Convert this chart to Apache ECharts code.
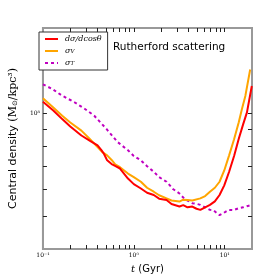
<!DOCTYPE html>
<html>
<head>
<meta charset="utf-8">
<script src="https://cdn.jsdelivr.net/npm/echarts@6/dist/echarts.min.js"></script>
<style>html,body{margin:0;padding:0;background:#fff}#c{width:280px;height:280px}</style>
</head>
<body>
<div id="c"></div>
<script>
// ---- data (t in Gyr, central density in Msun/kpc^3) ----
const tRed = [0.1, 0.13, 0.163, 0.2, 0.265, 0.33, 0.399, 0.44, 0.469, 0.509, 0.57, 0.63, 0.705, 0.863, 1.0, 1.197, 1.4, 1.658, 1.9, 2.294, 2.6, 3.18, 3.5, 3.9, 4.41, 4.9, 5.4, 6.1, 6.89, 7.8, 8.79, 9.9, 11.2, 12.7, 14.3, 16.0, 17.6, 19.9];
const rhoRed = [10.81, 10.2, 9.62, 9.15, 8.61, 8.3, 8.05, 7.8, 7.61, 7.28, 7.1, 7.0, 6.89, 6.44, 6.2, 6.02, 5.85, 5.76, 5.62, 5.57, 5.42, 5.33, 5.38, 5.3, 5.33, 5.25, 5.21, 5.3, 5.39, 5.52, 5.76, 6.15, 6.74, 7.5, 8.42, 9.3, 10.07, 12.03];
const tOrange = [0.1, 0.13, 0.163, 0.2, 0.265, 0.33, 0.399, 0.45, 0.509, 0.57, 0.624, 0.705, 0.863, 1.0, 1.197, 1.4, 1.658, 1.9, 2.294, 2.6, 3.18, 3.5, 3.9, 4.41, 5.4, 6.1, 6.89, 7.8, 8.79, 9.9, 11.2, 12.7, 14.3, 15.5, 16.9, 19.1];
const rhoOrange = [11.08, 10.4, 9.84, 9.4, 8.9, 8.4, 7.96, 7.7, 7.53, 7.3, 7.08, 6.95, 6.66, 6.5, 6.3, 6.05, 5.89, 5.75, 5.63, 5.55, 5.51, 5.58, 5.57, 5.55, 5.63, 5.72, 5.89, 6.05, 6.3, 6.8, 7.53, 8.4, 9.42, 10.3, 11.25, 13.45];
const tMag = [0.1, 0.128, 0.16, 0.225, 0.29, 0.367, 0.5, 0.66, 0.863, 1.0, 1.197, 1.4, 1.658, 1.9, 2.294, 2.7, 3.18, 3.6, 3.9, 4.4, 5.0, 5.4, 6.1, 6.89, 7.5, 8.2, 8.79, 9.5, 10.3, 11.2, 12.5, 14.3, 16, 18, 19.9];
const rhoMag = [12.17, 11.77, 11.3, 10.76, 10.3, 9.84, 9.0, 8.25, 7.79, 7.5, 7.28, 7.0, 6.74, 6.5, 6.3, 6.0, 5.82, 5.62, 5.55, 5.45, 5.42, 5.39, 5.3, 5.21, 5.2, 5.1, 5.03, 5.08, 5.15, 5.21, 5.2, 5.27, 5.3, 5.35, 5.39];
const rhoUnit = 1e7;
const seriesNames = ['dsig', 'sigV', 'sigT'];
const xLabelTicks = [0.1, 1, 10];
const xTicks = [0.2,0.3,0.4,0.5,0.6,0.7,0.8,0.9,1,2,3,4,5,6,7,8,9,10];
const yLabelTicks = [1e8];
const yTicks = [5e7,6e7,7e7,8e7,9e7,1e8];
const xTickLabels = {0.1:'10⁻¹', 1:'10⁰', 10:'10¹'};
const yTickLabels = {100000000:'10⁸'};
const xMin = 0.1, xMax = 20, yMin = 4e7, yMax = 1.78e8;

function pairs(t, r){ return t.map((v,i)=>[v, r[i]*rhoUnit]); }

const frame = '#999';
function xAx(pos, labels){
  return {type:'log', logBase:10, min:xMin, max:xMax, position:pos, gridIndex:0,
    axisLine:{show:true, onZero:false, lineStyle:{color:frame, width:2}},
    splitLine:{show:false},
    axisTick:{show:true, inside:true, length:4, customValues:xTicks, lineStyle:{color:'#222', width:1}},
    axisLabel:{show: labels, customValues:xLabelTicks, formatter:v=>xTickLabels[Math.round(v*10)/10]||'', fontFamily:'DejaVu Serif', fontSize:6, color:'#000', margin:3},
    name: labels ? '{i|t} {n|(Gyr)}' : '', nameLocation:'middle', nameGap:14,
    nameTextStyle:{rich:{i:{fontFamily:'DejaVu Serif', fontStyle:'italic', fontSize:10, color:'#000'}, n:{fontFamily:'DejaVu Sans', fontSize:10, color:'#000'}}}
  };
}
function yAx(pos, labels){
  return {type:'log', logBase:10, min:yMin, max:yMax, position:pos, gridIndex:0,
    axisLine:{show:true, onZero:false, lineStyle:{color:frame, width:2}},
    splitLine:{show:false},
    axisTick:{show:true, inside:true, length:4, customValues:yTicks, lineStyle:{color:'#222', width:1}},
    axisLabel:{show: labels, customValues:yLabelTicks, formatter:v=>yTickLabels[Math.round(v)]||'', fontFamily:'DejaVu Serif', fontSize:6, color:'#000', margin:3},
    name: labels ? '{n|Central density }{m|(M}{s|⊙}{m|/kpc³)}' : '', nameLocation:'middle', nameGap:22, nameRotate:90,
    nameTextStyle:{rich:{n:{fontFamily:'DejaVu Sans', fontSize:11, color:'#000'}, m:{fontFamily:'DejaVu Serif', fontSize:11, color:'#000'}, s:{fontFamily:'DejaVu Sans', fontSize:7, color:'#000', verticalAlign:'bottom'}}}
  };
}

const chart = echarts.init(document.getElementById('c'), null, {renderer:'canvas'});
chart.setOption({
  animation:false,
  backgroundColor:'#fff',
  title:{text:'Rutherford scattering', left:113, top:42, padding:0, textStyle:{fontFamily:'DejaVu Sans', fontSize:10.5, fontWeight:'normal', color:'#000'}},
  grid:{left:35, right:28, top:28, bottom:28, show:true, borderColor:frame, borderWidth:2, backgroundColor:'transparent'},
  xAxis:[xAx('bottom',true), xAx('top',false)],
  yAxis:[yAx('left',true), yAx('right',false)],
  legend:{orient:'vertical', left:39, top:32, padding:[3,6,3,5], itemGap:4, itemWidth:13, itemHeight:10,
    borderColor:'#333', borderWidth:1, backgroundColor:'#fff',
    itemStyle:{opacity:0},
    data: seriesNames,
    formatter: n => n==='dsig' ? '{i|dσ/d}{r|cos}{i|θ}' : (n==='sigV' ? '{i|σ}{s|V}' : '{i|σ}{s|T}'),
    textStyle:{padding:[0,0,0,2], rich:{i:{fontFamily:'DejaVu Serif', fontStyle:'italic', fontSize:8, color:'#000'}, r:{fontFamily:'DejaVu Serif', fontStyle:'italic', fontSize:8, color:'#000'}, s:{fontFamily:'DejaVu Serif', fontStyle:'italic', fontSize:5.5, color:'#000', verticalAlign:'bottom'}}}
  },
  series:[
    {name:'dsig', type:'line', xAxisIndex:0, yAxisIndex:0, data:pairs(tRed, rhoRed), showSymbol:false, symbol:'none', lineStyle:{color:'#ff0000', width:2}, itemStyle:{color:'#ff0000'}, z:4},
    {name:'sigV', type:'line', xAxisIndex:0, yAxisIndex:0, data:pairs(tOrange, rhoOrange), showSymbol:false, symbol:'none', lineStyle:{color:'#ffa500', width:2}, itemStyle:{color:'#ffa500'}, z:3},
    {name:'sigT', type:'line', xAxisIndex:0, yAxisIndex:0, data:pairs(tMag, rhoMag), showSymbol:false, symbol:'none', lineStyle:{color:'#c000c0', width:2, type:[3,3]}, itemStyle:{color:'#c000c0'}, z:2}
  ]
});
</script>
</body>
</html>
